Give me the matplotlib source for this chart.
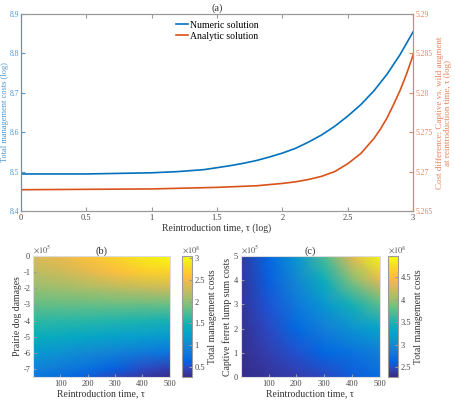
import numpy as np
import matplotlib
matplotlib.use("Agg")
import matplotlib.pyplot as plt
from matplotlib.colors import LinearSegmentedColormap

plt.rcParams['font.family'] = ['Liberation Serif', 'DejaVu Serif']
plt.rcParams['mathtext.fontset'] = 'stix'
plt.rcParams['axes.unicode_minus'] = False

# ---- panel (a): costs vs reintroduction time ----
tau_num = [0, 0.5, 1.0, 1.2, 1.4, 1.5, 1.6, 1.7, 1.8, 1.9, 2.0, 2.1, 2.2, 2.3,
           2.4, 2.5, 2.6, 2.7, 2.8, 2.9, 3.0]
cost_num = [8.494, 8.494, 8.497, 8.500, 8.505, 8.510, 8.515, 8.521, 8.528,
            8.537, 8.547, 8.559, 8.575, 8.593, 8.615, 8.641, 8.670, 8.705,
            8.747, 8.797, 8.855]
tau_ana = [0, 1.0, 1.5, 1.8, 2.0, 2.1, 2.2, 2.3, 2.4, 2.5, 2.6, 2.7, 2.75, 2.8,
           2.85, 2.9, 2.95, 3.0]
cost_ana = [5.2677, 5.2678, 5.2680, 5.2682, 5.2685, 5.2687, 5.2690, 5.2694,
            5.2700, 5.2710, 5.2723, 5.2742, 5.2754, 5.2768, 5.2785, 5.2803,
            5.2824, 5.2848]

# ---- panel (b): prairie dog damages (x1e5) vs tau, total cost (x1e8) ----
tau_grid = [0, 100, 200, 300, 400, 500]
damages = [0, -1, -2, -3, -4, -5, -6, -7, -7.5]
cost_b = [
    [2.35, 2.45, 2.60, 2.75, 2.90, 3.02],
    [2.20, 2.28, 2.40, 2.55, 2.68, 2.75],
    [2.02, 2.06, 2.12, 2.18, 2.24, 2.28],
    [1.82, 1.83, 1.84, 1.85, 1.85, 1.85],
    [1.62, 1.60, 1.58, 1.55, 1.52, 1.50],
    [1.40, 1.36, 1.31, 1.25, 1.20, 1.15],
    [1.15, 1.08, 1.00, 0.92, 0.84, 0.78],
    [0.92, 0.84, 0.74, 0.60, 0.48, 0.40],
    [0.80, 0.70, 0.58, 0.45, 0.35, 0.28],
]

# ---- panel (c): captive ferret lump sum costs (x1e5) vs tau ----
lump_sum = [0, 1, 2, 3, 4, 5]
cost_c = [
    [2.30, 2.35, 2.40, 2.47, 2.58, 2.72],
    [2.32, 2.42, 2.53, 2.65, 2.76, 2.88],
    [2.33, 2.48, 2.68, 2.88, 3.08, 3.25],
    [2.35, 2.55, 2.82, 3.12, 3.45, 3.75],
    [2.36, 2.60, 2.98, 3.40, 3.90, 4.35],
    [2.38, 2.65, 3.10, 3.70, 4.35, 4.90],
]

# approximate MATLAB parula
parula_pts = [
    (0.2081, 0.1663, 0.5292), (0.2123, 0.2138, 0.6270), (0.1959, 0.2645, 0.7279),
    (0.1253, 0.3242, 0.8303), (0.0117, 0.3875, 0.8820), (0.0165, 0.4266, 0.8786),
    (0.0498, 0.4586, 0.8641), (0.0723, 0.4887, 0.8467), (0.0793, 0.5200, 0.8312),
    (0.0641, 0.5570, 0.8240), (0.0343, 0.5966, 0.8199), (0.0239, 0.6287, 0.8038),
    (0.0228, 0.6535, 0.7768), (0.0384, 0.6743, 0.7436), (0.0843, 0.6928, 0.7062),
    (0.1453, 0.7098, 0.6646), (0.2178, 0.7250, 0.6193), (0.3022, 0.7376, 0.5712),
    (0.3953, 0.7459, 0.5244), (0.4871, 0.7491, 0.4840), (0.5709, 0.7485, 0.4494),
    (0.6473, 0.7456, 0.4188), (0.7184, 0.7411, 0.3905), (0.7858, 0.7356, 0.3633),
    (0.8507, 0.7299, 0.3360), (0.9139, 0.7258, 0.3063), (0.9739, 0.7314, 0.2666),
    (0.9990, 0.7653, 0.2164), (0.9880, 0.8066, 0.1794), (0.9697, 0.8481, 0.1475),
    (0.9589, 0.8949, 0.1132), (0.9661, 0.9514, 0.0755), (0.9763, 0.9831, 0.0538),
]
parula = LinearSegmentedColormap.from_list("parula", parula_pts)

blue = '#0072BD'
red = '#D95319'
blue_txt = '#4a98d4'
red_txt = '#e5825c'
edge = '#9a9a9a'
txt = '#333333'

fig = plt.figure(figsize=(4.56, 4.0), dpi=100)

# ---------- (a) ----------
ax = fig.add_axes([0.046, 0.4725, 0.86, 0.4925])
ax.plot(tau_num, cost_num, color=blue, lw=1.2, label='Numeric solution')
ax.set_xlim(0, 3)
ax.set_ylim(8.4, 8.9)
ax.set_xticks([0, 0.5, 1, 1.5, 2, 2.5, 3])
ax.set_xticklabels(['0', '0.5', '1', '1.5', '2', '2.5', '3'])
ax.set_yticks([8.4, 8.5, 8.6, 8.7, 8.8, 8.9])
ax.tick_params(direction='in', length=3, labelsize=5.5, top=True, right=False,
               pad=1)
ax.tick_params(axis='y', colors=blue_txt)
ax.tick_params(axis='x', colors=edge, labelcolor='#444444', labelsize=6,
               pad=2)
ax.set_xlabel('Reintroduction time, τ (log)', fontsize=7, color=txt,
              labelpad=1)
ax.set_ylabel('Total management costs (log)', fontsize=6, color=blue_txt)
ax.yaxis.set_label_coords(-0.030, 0.5)
ax.set_title('(a)', fontsize=7.5, pad=2, color=txt)

ax2 = ax.twinx()
ax2.plot(tau_ana, cost_ana, color=red, lw=1.2, label='Analytic solution')
ax2.set_ylim(5.265, 5.29)
ax2.set_yticks([5.265, 5.27, 5.275, 5.28, 5.285, 5.29])
ax2.set_yticklabels(['5.265', '5.27', '5.275', '5.28', '5.285', '5.29'])
ax2.tick_params(direction='in', length=3, labelsize=5.5, colors=red_txt,
                pad=2)
ax2.set_ylabel('Cost difference: Captive vs. wild augment\n'
               'at reintroduction time, τ (log)', fontsize=6.5,
               color=red_txt, labelpad=2, linespacing=1.0)

for a in (ax, ax2):
    a.spines['top'].set_color(edge)
    a.spines['bottom'].set_color(edge)
    a.spines['left'].set_color(blue_txt)
    a.spines['right'].set_color(red_txt)

h1, l1 = ax.get_legend_handles_labels()
h2, l2 = ax2.get_legend_handles_labels()
ax2.legend(h1 + h2, l1 + l2, loc='upper center', frameon=False, fontsize=7,
           handlelength=1.2, handletextpad=0.2, borderaxespad=0.3,
           labelspacing=0.2)


def heat_panel(rect, cb_rect, yvals, cvals, vmin, vmax, cticks, yticks,
               ylabel, title):
    a = fig.add_axes(rect)
    mesh = a.pcolormesh(tau_grid, yvals, np.array(cvals), shading='gouraud',
                        cmap=parula, vmin=vmin, vmax=vmax, rasterized=True)
    a.set_xlim(0, 500)
    a.set_ylim(min(yvals), max(yvals))
    a.set_xticks([100, 200, 300, 400, 500])
    a.set_yticks(yticks)
    a.set_yticklabels(['%g' % v for v in yticks])
    a.tick_params(direction='in', length=2.5, labelsize=6, colors=edge,
                  labelcolor='#444444', pad=2)
    for s in a.spines.values():
        s.set_color('#dddddd')
    a.text(0.0, 1.005, r'$\times10^5$', transform=a.transAxes, fontsize=6,
           color='#555555', ha='left', va='bottom')
    a.set_xlabel('Reintroduction time, τ', fontsize=7, color=txt, labelpad=1)
    a.set_ylabel(ylabel, fontsize=7, color=txt, labelpad=1)
    a.set_title(title, fontsize=7.5, pad=1, color=txt)

    cax = fig.add_axes(cb_rect)
    cb = fig.colorbar(mesh, cax=cax)
    cb.set_ticks(cticks)
    cb.set_ticklabels(['%g' % v for v in cticks])
    cax.text(0.0, 1.005, r'$\times10^8$', transform=cax.transAxes,
             fontsize=6, color='#555555', ha='left', va='bottom')
    cb.ax.tick_params(direction='in', length=2, labelsize=6, colors=edge,
                      labelcolor='#444444', pad=2)
    cb.outline.set_edgecolor(edge)
    cb.set_label('Total management costs', fontsize=7, color=txt,
                 labelpad=2)
    return a


heat_panel([0.0724, 0.0575, 0.300, 0.3025], [0.399, 0.0575, 0.021, 0.3025],
           damages, cost_b, 0.26, 3.05, [0.5, 1, 1.5, 2, 2.5, 3],
           [-7, -6, -5, -4, -3, -2, -1, 0], 'Prairie dog damages', '(b)')
heat_panel([0.528, 0.0575, 0.305, 0.3025], [0.851, 0.0575, 0.022, 0.3025],
           lump_sum, cost_c, 2.28, 4.97, [2.5, 3, 3.5, 4, 4.5],
           [0, 1, 2, 3, 4, 5], 'Captive ferret lump sum costs', '(c)')

fig.savefig('out.png', dpi=100)
